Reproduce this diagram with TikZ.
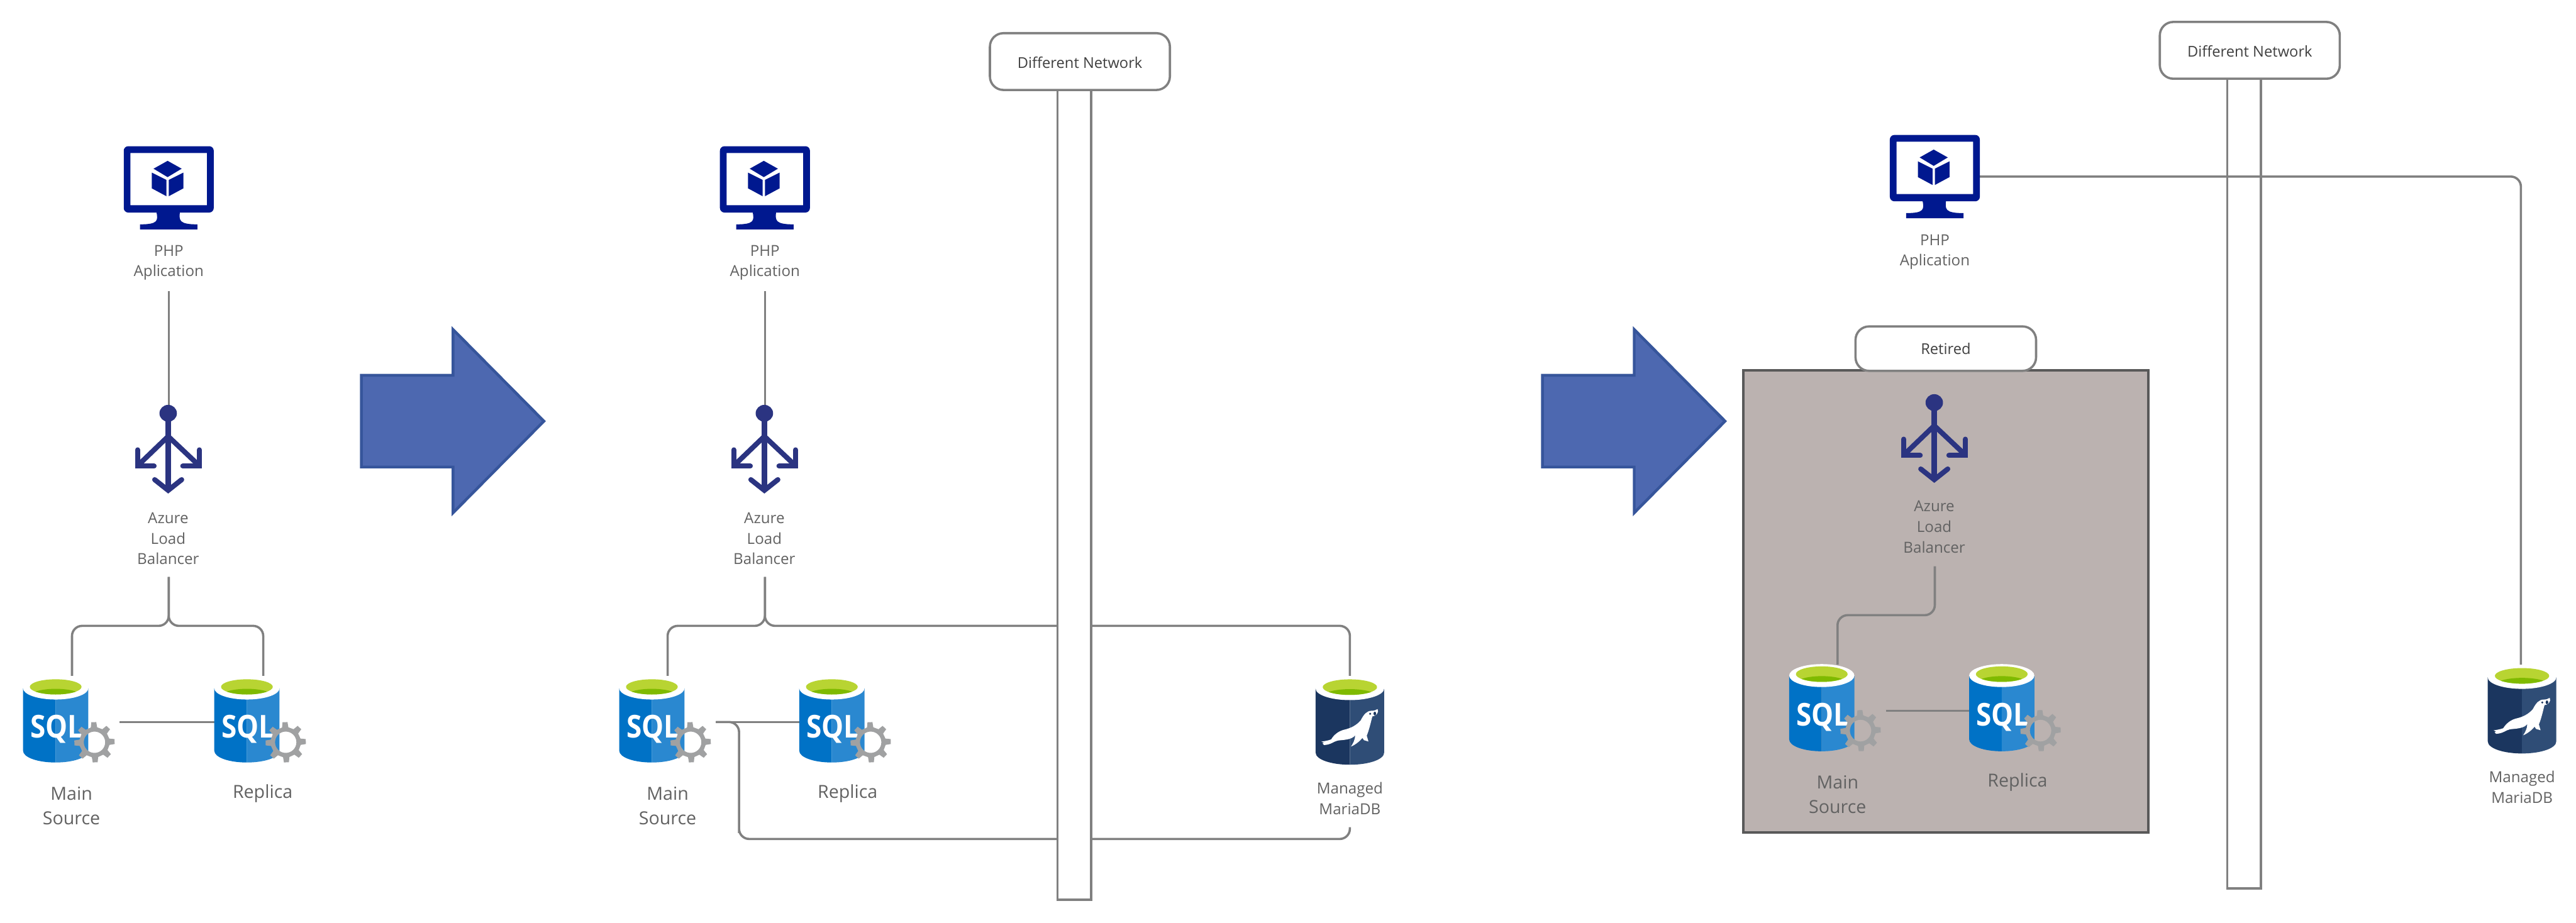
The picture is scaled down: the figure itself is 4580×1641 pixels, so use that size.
\documentclass[tikz,border=0pt]{standalone}
\usepackage{fontspec}
\usepackage{graphicx}
\setmainfont{Open Sans}
\definecolor{linegray}{HTML}{808080}
\definecolor{txtgray}{HTML}{626262}
\definecolor{txtdark}{HTML}{404040}
\definecolor{monblue}{HTML}{00188F}
\definecolor{lbblue}{HTML}{2B3481}
\definecolor{sqlA}{HTML}{0072C6}
\definecolor{sqlB}{HTML}{2A88D0}
\definecolor{mdbA}{HTML}{1B365F}
\definecolor{mdbB}{HTML}{2F4D76}
\definecolor{greenA}{HTML}{B8D432}
\definecolor{greenB}{HTML}{7FBA00}
\definecolor{gearc}{HTML}{A0A1A2}
\definecolor{arrowfill}{HTML}{4D68B0}
\definecolor{arrowline}{HTML}{36559B}
\definecolor{retiredfill}{HTML}{BBB2B0}
\definecolor{retiredline}{HTML}{595959}
\tikzset{
  conn/.style={draw=linegray,line width=4pt,rounded corners=18pt,line cap=butt},
  smalllabel/.style={text=txtgray,align=center,font=\fontsize{27}{36.5}\selectfont},
  biglabel/.style={text=txtgray,align=center,font=\fontsize{32}{44}\selectfont},
  tagbox/.style={draw=linegray,fill=white,line width=4pt,rounded corners=24pt,text=txtdark,font=\fontsize{26.5}{36}\selectfont,inner sep=0pt},
  pillar/.style={draw=linegray,fill=white,line width=4pt},
  bigarrow/.style={draw=arrowline,fill=arrowfill,line width=5pt,miter limit=10},
  sqltext/.style={text=white,font=\fontsize{56}{56}\bfseries\selectfont,anchor=base,inner sep=0pt},
  lbstroke/.style={draw=lbblue,line width=9pt}
}
\newcommand{\pmonitor}[2]{%
\begin{scope}[shift={(#1,#2)}]
 \fill[monblue,rounded corners=8pt,even odd rule] (220,260) rectangle (380,378) [sharp corners] (232,272) rectangle (368,365);
 \fill[monblue] (278,376) .. controls (281,392) and (282,399) .. (249,399) -- (249,408) -- (351,408) -- (351,399) .. controls (318,399) and (318,392) .. (320,376) -- cycle;
 \fill[monblue] (298,286) -- (323,300) -- (298,315) -- (273,300) -- cycle;
 \fill[monblue] (270,307) -- (296,320) -- (296,349) -- (270,335) -- cycle;
 \fill[monblue] (300,320) -- (326,307) -- (326,335) -- (300,349) -- cycle;
\end{scope}}
\newcommand{\lbicon}[2]{%
\begin{scope}[shift={(#1,#2)}]
 \fill[lbblue] (299,735) ellipse [x radius=15.5,y radius=15];
 \draw[lbstroke,line width=10pt] (299,745) -- (299,872);
 \draw[lbstroke,line cap=round] (275,853) -- (299,872) -- (323,853);
 \draw[lbstroke] (299,776) -- (246,827);
 \draw[lbstroke] (299,776) -- (353,827);
 \draw[lbstroke,line cap=round] (244.5,800) -- (244.5,829) -- (274,829);
 \draw[lbstroke,line cap=round] (354.5,800) -- (354.5,829) -- (325,829);
\end{scope}}
\newcommand{\gearshape}[2]{%
\begin{scope}[shift={(#1,#2)}]
 \fill[gearc,even odd rule] (-14:27)
   \foreach \a in {0,45,...,315} { -- (\a-2-12:27) -- (\a-2-7:36) -- (\a-2+7:36) -- (\a-2+12:27) } -- cycle
   (0,0) circle (19);
\end{scope}}
% #3 xscale, #5 left colour, #6 right colour
\newcommand{\cylbase}[6]{%
 \fill[#5] (-#3*58,20) -- (-#3*58,131) .. controls (-#3*58,143) and (-#3*32,152) .. (0,152) -- (0,20) -- cycle;
 \fill[#6] (#3*58,20) -- (#3*58,131) .. controls (#3*58,143) and (#3*32,152) .. (0,152) -- (0,20) -- cycle;
 \fill[white] (0,20) ellipse [x radius=#3*58,y radius=20];
 \begin{scope}
  \clip (0,17.5) ellipse [x radius=#3*46,y radius=13.5];
  \fill[greenA] (-80,0) rectangle (80,40);
  \fill[greenB] (0,34) ellipse [x radius=#3*46,y radius=13];
 \end{scope}}
\newcommand{\sqlcyl}[3]{%
\begin{scope}[shift={(#1,#2)},yscale=#3]
 \cylbase{#1}{#2}{1}{#3}{sqlA}{sqlB}
 \node[sqltext] at (2,108) {\scalebox{.88}[1]{SQL}};
 \gearshape{69}{116}
\end{scope}}
\newcommand{\mariacyl}[2]{%
\begin{scope}[shift={(#1,#2)},yscale=1.026]
 \cylbase{#1}{#2}{1.05}{1}{mdbA}{mdbB}
\end{scope}
\begin{scope}[shift={(#1-70,#2-9)},x=0.3333pt,y=-0.3333pt]
 \fill[white] (58,372) .. controls (80,368) and (95,366) .. (110,360)
   .. controls (125,335) and (150,315) .. (180,308)
   .. controls (215,300) and (245,285) .. (268,258)
   .. controls (285,225) and (300,208) .. (325,207)
   .. controls (340,208) and (350,203) .. (358,198) -- (360,212)
   .. controls (355,228) and (345,235) .. (330,237)
   .. controls (322,265) and (316,300) .. (300,340)
   -- (309,371) -- (285,364) -- (277,352)
   .. controls (262,370) and (240,388) .. (216,398)
   .. controls (228,380) and (238,360) .. (238,338)
   .. controls (220,362) and (180,362) .. (145,366)
   .. controls (120,372) and (110,388) .. (72,390)
   -- (64,382) -- (72,378) -- cycle;
 \fill[mdbA] (318,223) circle (6);
 \fill[mdbA] (343,222) ellipse [x radius=7,y radius=10];
\end{scope}}
\begin{document}
\begin{tikzpicture}[x=1pt,y=-1pt]
\useasboundingbox (0,0) rectangle (4580,1641);
\fill[white] (0,0) rectangle (4580,1641);

% ---------- named connector ends ----------
\coordinate (p1phpb) at (300,518);
\coordinate (p1lbt) at (300,721);
\coordinate (p1lbb) at (300,1026);
\coordinate (p1bus) at (300,1113);
\coordinate (p1mt) at (128,1202);
\coordinate (p1rt) at (468,1202);
\coordinate (p1ms) at (213,1284);
\coordinate (p1rs) at (382,1284);
\coordinate (p2phpb) at (1360,518);
\coordinate (p2lbt) at (1360,721);
\coordinate (p2lbb) at (1360,1026);
\coordinate (p2bus) at (1360,1113);
\coordinate (p2mt) at (1187,1202);
\coordinate (p2dbt) at (2400,1202);
\coordinate (p2ms) at (1273,1284);
\coordinate (p2rs) at (1421,1284);
\coordinate (p2turn) at (1314,1284);
\coordinate (p2low) at (1314,1492);
\coordinate (p2dbb) at (2400,1471);
\coordinate (p3phpr) at (3519,314);
\coordinate (p3dbt) at (4482,1182);
\coordinate (p3lbb) at (3440,1007);
\coordinate (p3mid) at (3440,1094);
\coordinate (p3mt) at (3267,1182);
\coordinate (p3ms) at (3353,1264);
\coordinate (p3rs) at (3501,1264);

% ---------- panel 1 ----------
\draw[conn] (p1phpb) -- (p1lbt);
\draw[conn] (p1lbb) -- (p1bus) -| (p1mt);
\draw[conn] (p1lbb) -- (p1bus) -| (p1rt);
\draw[conn] (p1ms) -- (p1rs);
\pmonitor{0}{0}
\lbicon{0}{0}
\sqlcyl{99}{1204}{1}
\sqlcyl{439}{1204}{1}
\node[smalllabel] (p1php) at (300,467) {PHP\\Aplication};
\node[smalllabel] (p1lb) at (299,958) {Azure\\Load\\Balancer};
\node[biglabel] (p1main) at (127,1433) {Main\\Source};
\node[biglabel,anchor=center] (p1rep) at (467,1411) {Replica};

% ---------- arrows ----------
\draw[bigarrow] (642.5,667.5) -- (805.5,667.5) -- (805.5,586) -- (967,749) -- (805.5,912) -- (805.5,830.5) -- (642.5,830.5) -- cycle;
\draw[bigarrow] (2742.5,667.5) -- (2905.5,667.5) -- (2905.5,586) -- (3067,749) -- (2905.5,912) -- (2905.5,830.5) -- (2742.5,830.5) -- cycle;

% ---------- panel 2 ----------
\draw[conn] (p2phpb) -- (p2lbt);
\draw[conn] (p2lbb) -- (p2bus) -| (p2mt);
\draw[conn] (p2lbb) -- (p2bus) -| (p2dbt);
\draw[conn] (p2ms) -- (p2rs);
\draw[conn] (p2ms) -- (p2turn) |- (p2low) -| (p2dbb);
\draw[pillar] (1880,160) rectangle (1940,1600);
\node[tagbox,minimum width=320pt,minimum height=101pt,text height=23pt,text depth=0pt] (p2net) at (1920,109.5) {Different Network};
\pmonitor{1060}{0}
\lbicon{1060}{0}
\sqlcyl{1159}{1204}{1}
\sqlcyl{1479}{1204}{1}
\mariacyl{2400}{1204}
\node[smalllabel] (p2php) at (1360,467) {PHP\\Aplication};
\node[smalllabel] (p2lb) at (1359,958) {Azure\\Load\\Balancer};
\node[biglabel] (p2main) at (1187,1433) {Main\\Source};
\node[biglabel] (p2rep) at (1507,1411) {Replica};
\node[smalllabel] (p2db) at (2400,1420) {Managed\\MariaDB};

% ---------- panel 3 ----------
\draw[pillar] (3960,140) rectangle (4020,1580);
\node[tagbox,minimum width=320pt,minimum height=101pt,text height=23pt,text depth=0pt] (p3net) at (4000,89.5) {Different Network};
\draw[conn] (p3phpr) -| (p3dbt);
\pmonitor{3140}{-20}
\node[smalllabel] (p3php) at (3440,448) {PHP\\Aplication};
\mariacyl{4484}{1184}
\node[smalllabel] (p3db) at (4484,1400) {Managed\\MariaDB};

\fill[retiredfill] (3099,659) rectangle (3820,1480);
\draw[retiredline,line width=4.5pt] (3099,659) rectangle (3820,1480);
\node[tagbox,minimum width=321pt,minimum height=79pt] (p3ret) at (3459.5,620) {Retired};
\draw[conn] (p3lbb) -- (p3mid) -| (p3mt);
\draw[conn] (p3ms) -- (p3rs);
\lbicon{3140}{-19}
\sqlcyl{3239}{1181}{1.02}
\sqlcyl{3559}{1181}{1.02}
\node[smalllabel] (p3lb) at (3439,937) {Azure\\Load\\Balancer};
\node[biglabel] (p3main) at (3267,1413) {Main\\Source};
\node[biglabel] (p3rep) at (3587,1391) {Replica};
\end{tikzpicture}
\end{document}
